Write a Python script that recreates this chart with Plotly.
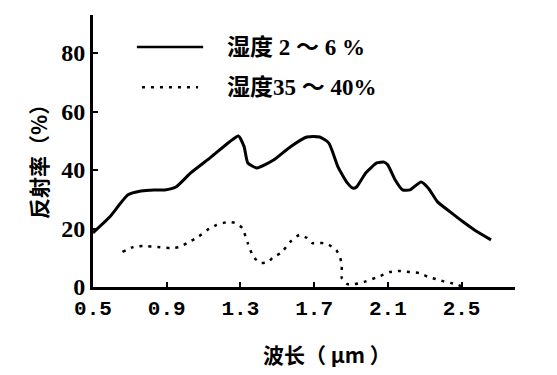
import plotly.graph_objects as go

# Humidity 2~6 % (solid)
dry_x = [0.50, 0.59, 0.69, 0.76, 0.83, 0.89, 0.95, 1.03, 1.14, 1.24, 1.29, 1.32, 1.34, 1.39,
         1.48, 1.57, 1.66, 1.73, 1.78, 1.83, 1.88, 1.91, 1.93, 1.98, 2.04, 2.08, 2.10, 2.14,
         2.18, 2.22, 2.28, 2.32, 2.37, 2.44, 2.51, 2.57, 2.66]
dry_y = [18.5, 23.9, 31.5, 32.8, 33.2, 33.2, 34.2, 39.0, 44.4, 49.6, 51.6, 48.0, 42.4, 40.7,
         43.4, 47.9, 51.3, 51.3, 49.2, 41.0, 35.6, 33.8, 34.2, 39.0, 42.4, 42.7, 41.7, 36.6,
         33.2, 33.2, 35.9, 33.8, 29.1, 25.6, 22.2, 19.5, 16.1]

# Humidity 35~40 % (dotted)
wet_x = [0.66, 0.72, 0.77, 0.85, 0.92, 0.97, 1.01, 1.07, 1.12, 1.17, 1.23, 1.27, 1.31, 1.34,
         1.37, 1.41, 1.45, 1.48, 1.52, 1.57, 1.62, 1.66, 1.69, 1.72, 1.75, 1.78, 1.82, 1.84,
         1.85, 1.85, 1.88, 1.92, 1.97, 2.06, 2.11, 2.17, 2.22, 2.27, 2.32, 2.36, 2.40, 2.44,
         2.48, 2.51]
wet_y = [12.0, 13.7, 14.0, 13.7, 13.3, 13.7, 15.0, 17.1, 19.5, 21.2, 22.2, 21.9, 20.2, 15.0,
         10.3, 8.2, 8.5, 10.3, 11.6, 15.4, 17.8, 16.8, 15.0, 15.0, 15.0, 14.4, 12.6, 10.3,
         7.5, 3.1, 1.0, 1.0, 1.7, 3.8, 5.1, 5.5, 5.1, 4.8, 3.4, 2.7, 2.0, 1.4, 0.7, 0.0]

x_ticks = [0.5, 0.9, 1.3, 1.7, 2.1, 2.5]
x_ticklabels = ["0.5", "0.9", "1.3", "1.7", "2.1", "2.5"]
y_ticks = [0, 20, 40, 60, 80]
y_ticklabels = ["0", "20", "40", "60", "80"]

legend_dry = "湿度 2 ～ 6 %"
legend_wet = "湿度35 ～ 40%"
x_title = "波长（ μm ）"
y_title = "反射率（%）"

MIX = "Liberation Serif, Noto Sans CJK SC, serif"
CJK = "Noto Sans CJK SC, sans-serif"

fig = go.Figure()
fig.add_trace(go.Scatter(x=dry_x, y=dry_y, mode="lines", name=legend_dry,
                         line=dict(color="black", width=3, shape="spline", smoothing=0.5)))
fig.add_trace(go.Scatter(x=wet_x, y=wet_y, mode="lines", name=legend_wet,
                         line=dict(color="black", width=2.5, dash="3px,6px", shape="spline", smoothing=0.5)))

fig.update_layout(
    width=557, height=375,
    margin=dict(l=93, r=42, t=15, b=88),
    paper_bgcolor="white", plot_bgcolor="white",
    showlegend=False,
    xaxis=dict(range=[0.5, 2.79], tickvals=x_ticks, ticktext=x_ticklabels,
               showgrid=False, zeroline=False, showline=True, linecolor="black", linewidth=3,
               ticks="inside", ticklen=5, tickwidth=2, tickcolor="black",
               tickfont=dict(family="Liberation Mono, monospace", size=21, color="black", weight="bold")),
    yaxis=dict(range=[0, 93], tickvals=y_ticks, ticktext=y_ticklabels,
               showgrid=False, zeroline=False, showline=True, linecolor="black", linewidth=3,
               ticks="inside", ticklen=5, tickwidth=2, tickcolor="black", ticklabelstandoff=0,
               tickfont=dict(family="Liberation Serif, serif", size=24, color="black", weight="bold")),
)

# legend samples and labels
fig.add_shape(type="line", xref="paper", yref="paper", x0=0.104, x1=0.261, y0=0.882, y1=0.882,
              line=dict(color="black", width=2.5))
fig.add_shape(type="line", xref="paper", yref="paper", x0=0.116, x1=0.249, y0=0.734, y1=0.734,
              line=dict(color="black", width=2.5, dash="3px,6px"))
fig.add_annotation(xref="paper", yref="paper", x=0.313, y=0.882, xanchor="left", yanchor="middle",
                   text=legend_dry, showarrow=False,
                   font=dict(family=MIX, size=23, color="black", weight="bold"))
fig.add_annotation(xref="paper", yref="paper", x=0.313, y=0.734, xanchor="left", yanchor="middle",
                   text=legend_wet, showarrow=False,
                   font=dict(family=MIX, size=23, color="black", weight="bold"))

# axis titles
fig.add_annotation(xref="paper", yref="paper", x=(327 - 93) / 422, y=(287 - 354) / 272,
                   xanchor="center", yanchor="middle", text=x_title, showarrow=False,
                   font=dict(family=CJK, size=21, color="black", weight="bold"))
fig.add_annotation(xref="paper", yref="paper", x=(38 - 93) / 422, y=(287 - 156) / 272,
                   xanchor="center", yanchor="middle", text=y_title, textangle=-90, showarrow=False,
                   font=dict(family=CJK, size=21, color="black", weight="bold"))

fig.write_html("out.html", config={"displayModeBar": False},
               post_script="document.body.style.margin='0';document.body.style.overflow='hidden';")
